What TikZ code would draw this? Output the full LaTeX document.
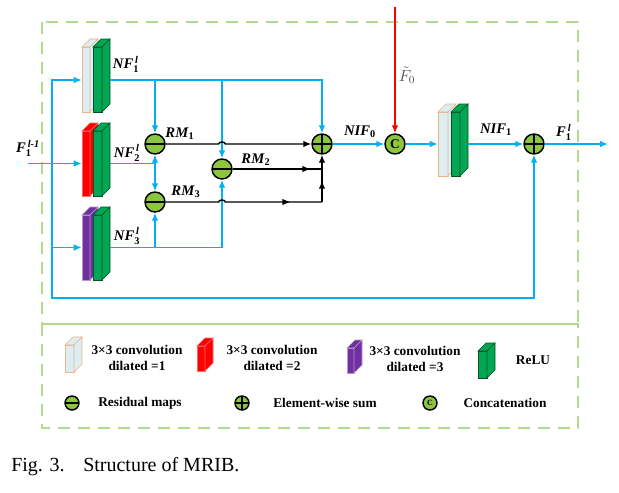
\documentclass[tikz,border=0pt]{standalone}
\usepackage{amsmath}
\usepackage{fontspec}
\setmainfont{Liberation Serif}
\usetikzlibrary{arrows.meta,fit,decorations.markings}

\definecolor{lineblue}{RGB}{0,176,240}
\definecolor{boxgreen}{RGB}{178,218,140}
\definecolor{opgreen}{RGB}{140,198,63}
\definecolor{relugreen}{RGB}{0,166,81}
\definecolor{reludark}{RGB}{0,85,40}
\definecolor{convblue}{RGB}{218,238,243}
\definecolor{convedge}{RGB}{244,177,131}
\definecolor{dilred}{RGB}{255,0,0}
\definecolor{dilpurple}{RGB}{112,48,160}

% one feature layer drawn as a small prism: x, top y, width, height, fill, edge
\newcommand{\layer}[6]{%
  \filldraw[fill=#5,draw=#6,line width=0.4pt] (#1,#2) ++(0,8) rectangle ++(#3,#4);
  \filldraw[fill=#5,draw=#6,line width=0.4pt] (#1,#2) ++(0,8) -- ++(8,-8) -- ++(#3,0) -- ++(-8,8) -- cycle;
  \filldraw[fill=#5,draw=#6,line width=0.4pt] (#1,#2) ++(#3,8) -- ++(8,-8) -- ++(0,#4) -- ++(-8,8) -- cycle;
}
\newcommand{\fmap}[3]{\textbf{\textit{#1}}$_{\textbf{#2}}^{\,\textbf{\textit{#3}}}$}
\newcommand{\rmap}[2]{\textbf{\textit{#1}}$_{\textbf{#2}}$}

\begin{document}
\begin{tikzpicture}[x=0.75pt,y=-0.75pt,
  >={Latex[length=6pt,width=5pt]},
  bl/.style={lineblue,line width=1.1pt},
  blk/.style={black,line width=1.1pt},
  rd/.style={red,line width=1.1pt},
  frame/.style={boxgreen,line width=0.9pt,dash pattern=on 9pt off 6pt},
  op/.style={circle,draw=black,line width=1.1pt,fill=opgreen,minimum size=15pt,inner sep=0pt},
  minusop/.style={op,path picture={\draw[line width=1.1pt] (path picture bounding box.west) -- (path picture bounding box.east);}},
  plusop/.style={op,path picture={\draw[line width=1.1pt] (path picture bounding box.west) -- (path picture bounding box.east)
      (path picture bounding box.north) -- (path picture bounding box.south);}},
  catop/.style={op,font=\fontsize{10}{10}\selectfont\bfseries},
  lab/.style={font=\fontsize{11}{13}\selectfont,inner sep=0pt},
  leg/.style={font=\fontsize{10}{12.5}\selectfont\bfseries,align=center,inner sep=0pt},
  midarrow/.style={postaction={decorate},decoration={markings,mark=at position #1 with {\arrow{Latex[length=6pt,width=5pt]}}}}]
\useasboundingbox (0,0) rectangle (619,493);

% frames
\draw[frame] (42,22) rectangle (578,324);
\draw[frame] (42,324) rectangle (578,428);

% layers
\layer{82}{39}{8}{65}{convblue}{convedge}
\layer{93}{39}{9}{65}{relugreen}{reludark}
\layer{82}{123}{8}{65}{dilred}{dilred!60!white}
\layer{93}{123}{9}{65}{relugreen}{reludark}
\layer{82}{207}{8}{65}{dilpurple}{dilpurple!50!white}
\layer{93}{207}{9}{65}{relugreen}{reludark}
\layer{438}{104}{10}{64}{convblue}{convedge}
\layer{451}{104}{9}{64}{relugreen}{reludark}

\node[inner sep=0pt,fit={(82,48) (110,112)}] (b1) {};
\node[inner sep=0pt,fit={(82,131) (110,196)}] (b2) {};
\node[inner sep=0pt,fit={(82,215) (110,280)}] (b3) {};
\node[inner sep=0pt,fit={(438,112) (468,176)}] (b4) {};

% operators
\node[minusop] (rm1) at (155,144) {};
\node[minusop] (rm2) at (222,169) {};
\node[minusop] (rm3) at (155,202) {};
\node[plusop] (sum1) at (322,144) {};
\node[catop] (cat) at (395,144) {C};
\node[plusop] (sum2) at (534,144) {};

\coordinate (in) at (28,163.5);
\coordinate (sp) at (52,163.5);
\coordinate (lp) at (52,298);
\coordinate (ftop) at (395,7);
\coordinate (out) at (608,144);
\coordinate (j2) at (sum1 |- rm2);
\coordinate (j3) at (sum1 |- rm3);
\coordinate (h1) at (rm2 |- rm1);
\coordinate (h3) at (rm2 |- rm3);

% input and skip
\draw[bl,->] (in) -- (b2.west);
\draw[bl,->] (sp) |- (b1.west);
\draw[bl,->] (sp) |- (b3.west);
\draw[bl,->] (sp) -- (lp) -| (sum2.south);

% branch outputs
\draw[bl,->] (b1.east) -| (sum1.north);
\draw[bl,->] (rm1 |- b1.east) -- (rm1.north);
\draw[bl,->] (rm2 |- b1.east) -- (rm2.north);
\draw[bl] (b2.east) -- (rm1 |- b2.east);
\draw[bl,->] (rm1 |- b2.east) -- (rm1.south);
\draw[bl,->] (rm1 |- b2.east) -- (rm3.north);
\draw[bl] (b3.east) -- (rm2 |- b3.east);
\draw[bl,->] (rm3 |- b3.east) -- (rm3.south);
\draw[bl,->] (rm2 |- b3.east) -- (rm2.south);

% residual maps
\draw[blk,->] (rm1.east) -- ([xshift=-2.5pt]h1) to[bend left=90] ([xshift=2.5pt]h1) -- (sum1.west);
\draw[blk,midarrow=0.87] (rm2.east) -- (j2);
\draw[blk,midarrow=0.8] (rm3.east) -- ([xshift=-2.5pt]h3) to[bend left=90] ([xshift=2.5pt]h3) -- (j3);
\draw[blk,->,midarrow=0.45] (j3) -- (sum1.south);

% fusion
\draw[bl,->] (sum1) -- (cat);
\draw[rd,->] (ftop) -- (cat.north);
\draw[bl,->] (cat) -- (b4.west);
\draw[bl,->] (b4.east) -- (sum2);
\draw[bl,->] (sum2) -- (out);

% labels
\node[lab] (lin) at (28,148) {\fmap{F}{1}{l-1}};
\node[lab] (lnf1) at (126,64) {\fmap{NF}{1}{l}};
\node[lab] (lnf2) at (127,153) {\fmap{NF}{2}{l}};
\node[lab] (lnf3) at (127,236) {\fmap{NF}{3}{l}};
\node[lab] (lrm1) at (180,134) {\rmap{RM}{1}};
\node[lab] (lrm2) at (256,160) {\rmap{RM}{2}};
\node[lab] (lrm3) at (186,192) {\rmap{RM}{3}};
\node[lab] (lnif0) at (360,132) {\rmap{NIF}{0}};
\node[lab,text=black!70,font=\fontsize{12}{14}\selectfont] (lf0) at (407,75) {$\tilde{F}_{0}$};
\node[lab] (lnif1) at (496,130) {\rmap{NIF}{1}};
\node[lab] (lout) at (564,132) {\fmap{F}{1}{l}};

% legend
\layer{65}{337}{9}{27}{convblue}{convedge}
\node[leg] (t1) at (137,358) {3×3 convolution\\dilated =1};
\layer{197}{338}{8}{25}{dilred}{dilred!60!white}
\node[leg] (t2) at (272,358) {3×3 convolution\\dilated =2};
\layer{347}{340}{7}{25}{dilpurple}{dilpurple!50!white}
\node[leg] (t3) at (415,359) {3×3 convolution\\dilated =3};
\layer{478}{343}{9}{27}{relugreen}{reludark}
\node[leg] (t4) at (533,360) {ReLU};
\node[minusop,minimum size=10.5pt] (k1) at (72,403) {};
\node[leg] (t5) at (140,403) {Residual maps};
\node[plusop,minimum size=10.5pt] (k2) at (242,403) {};
\node[leg] (t6) at (325,403) {Element-wise sum};
\node[catop,minimum size=10.5pt,font=\fontsize{6}{6}\selectfont\bfseries] (k3) at (430,403) {C};
\node[leg] (t7) at (505,403) {Concatenation};

% caption
\node[anchor=west,inner sep=0pt,font=\fontsize{15}{17}\selectfont] (cap) at (11,467) {Fig. 3.\hspace{14pt}Structure of MRIB.};
\end{tikzpicture}
\end{document}
